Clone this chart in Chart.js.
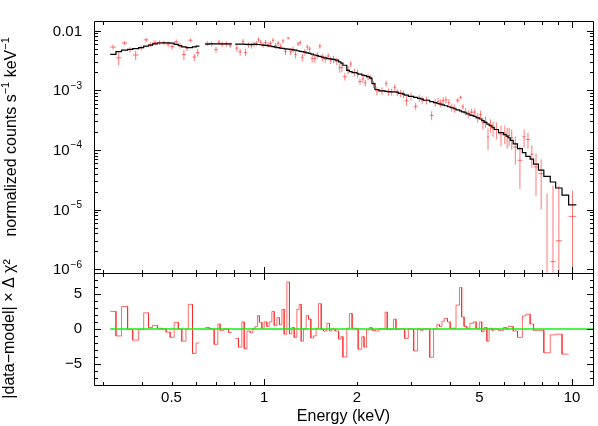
<!DOCTYPE html>
<html>
<head>
<meta charset="utf-8">
<script src="https://cdn.jsdelivr.net/npm/chart.js@4.4.1/dist/chart.umd.min.js"></script>
<style>
  html, body { margin: 0; padding: 0; background: #fff; }
</style>
</head>
<body>
<canvas id="spec" width="598" height="426"></canvas>
<script>
// channel bin edges in keV (one more than the number of bins)
const binEdges = [
  0.316, 0.330, 0.344, 0.360, 0.374, 0.391, 0.406, 0.421, 0.434, 0.450,
  0.465, 0.480, 0.495, 0.510, 0.526, 0.540, 0.557, 0.567, 0.585, 0.601,
  0.616, 0.643, 0.663, 0.688, 0.707, 0.719, 0.741, 0.766, 0.785, 0.805,
  0.825, 0.846, 0.861, 0.879, 0.901, 0.919, 0.935, 0.951, 0.965, 0.983,
  1.000, 1.020, 1.038, 1.059, 1.078, 1.100, 1.121, 1.142, 1.161, 1.185,
  1.208, 1.230, 1.252, 1.277, 1.299, 1.319, 1.342, 1.369, 1.393, 1.418,
  1.446, 1.475, 1.501, 1.532, 1.559, 1.599, 1.630, 1.659, 1.700, 1.745,
  1.775, 1.802, 1.855, 1.892, 1.930, 1.997, 2.020, 2.075, 2.110, 2.150,
  2.200, 2.240, 2.290, 2.360, 2.470, 2.510, 2.560, 2.630, 2.680, 2.730,
  2.810, 2.860, 2.940, 3.060, 3.150, 3.230, 3.290, 3.450, 3.550, 3.640,
  3.710, 3.780, 3.850, 3.940, 4.020, 4.120, 4.200, 4.310, 4.380, 4.460,
  4.550, 4.660, 4.780, 4.880, 5.000, 5.090, 5.180, 5.290, 5.380, 5.490,
  5.590, 5.770, 5.990, 6.110, 6.200, 6.300, 6.440, 6.650, 6.900, 7.080,
  7.310, 7.500, 7.780, 8.100, 8.500, 8.850, 9.280, 9.750,
  10.33
];

// normalized counts s^-1 keV^-1 (null = ignored channel)
const flux = [
  5.3e-3, 3.5e-3, 6.2e-3, 4.8e-3, 3.9e-3, 5.15e-3, 7.0e-3, 5.85e-3, 6.3e-3, 6.3e-3,
  6.25e-3, 5.95e-3, 5.4e-3, 6.5e-3, 5.6e-3, 3.97e-3, 5.1e-3, 6.9e-3, 3.6e-3, 4.3e-3,
  null, 6.1e-3, 6.05e-3, 4.8e-3, 6.4e-3, 5.9e-3, 6.0e-3, 5.7e-3, null, 5.1e-3,
  4.4e-3, 6.6e-3, 4.3e-3, 5.75e-3, 5.6e-3, 5.95e-3, 6.1e-3, 7.0e-3, 6.4e-3, 5.75e-3,
  6.3e-3, 5.8e-3, 6.1e-3, 6.9e-3, 5.6e-3, 6.15e-3, 5.45e-3, 6.7e-3, 4.5e-3, 7.5e-3,
  4.45e-3, 4.85e-3, 4.0e-3, 6.0e-3, 6.3e-3, 3.55e-3, 4.35e-3, 5.3e-3, 4.9e-3, 3.4e-3,
  3.4e-3, 3.85e-3, 5.5e-3, 3.55e-3, 3.35e-3, 3.75e-3, 3.2e-3, 3.3e-3, 3.05e-3, 2.4e-3,
  2.4e-3, 1.69e-3, 2.2e-3, 2.76e-3, 2.0e-3, 1.93e-3, 1.4e-3, 1.55e-3, 1.33e-3, 1.67e-3,
  1.63e-3, 1.26e-3, 9.8e-4, 9.8e-4, 1.3e-3, 9.4e-4, 9.4e-4, 1.12e-3, 9.2e-4, 8.9e-4,
  8.6e-4, 6.7e-4, 7.9e-4, 5.4e-4, 7.3e-4, 6.9e-4, 6.8e-4, 3.8e-4, 6.2e-4, 6.5e-4,
  6.15e-4, 6.7e-4, 6.9e-4, 6.2e-4, 5.2e-4, 5.0e-4, 6.8e-4, 7.6e-4, 5.3e-4, 4.4e-4,
  4.05e-4, 4.3e-4, 4.3e-4, 3.5e-4, 3.9e-4, 2.85e-4, 3.0e-4, 1.65e-4, 2.6e-4, 2.3e-4,
  2.2e-4, 1.85e-4, 1.9e-4, 1.7e-4, 1.75e-4, 1.6e-4, 1.12e-4, 6.7e-5, 1.66e-4, 1.5e-4,
  8.5e-5, 5.2e-5, 4.0e-5, 5e-7, 1.34e-6, 3.0e-6, null, 7.7e-6
];

const fluxErr = [
  5.2e-4, 9.0e-4, 4.7e-4, 5.0e-4, 6.9e-4, 5.0e-4, 6.5e-4, 5.0e-4, 6.0e-4, 5.5e-4,
  5.5e-4, 6.0e-4, 6.0e-4, 6.5e-4, 6.0e-4, 7.9e-4, 5.5e-4, 4.8e-4, 5.0e-4, 6.0e-4,
  null, 6.0e-4, 6.0e-4, 5.5e-4, 6.0e-4, 6.0e-4, 6.0e-4, 6.0e-4, null, 6.3e-4,
  6.0e-4, 6.5e-4, 5.8e-4, 6.0e-4, 6.0e-4, 6.0e-4, 6.0e-4, 6.0e-4, 6.3e-4, 6.0e-4,
  6.5e-4, 6.0e-4, 6.0e-4, 6.0e-4, 6.0e-4, 6.0e-4, 5.8e-4, 5.9e-4, 6.0e-4, 3.9e-4,
  5.7e-4, 5.5e-4, 5.8e-4, 5.0e-4, 5.2e-4, 5.2e-4, 5.5e-4, 5.5e-4, 5.4e-4, 5.0e-4,
  5.0e-4, 5.0e-4, 5.0e-4, 4.8e-4, 4.5e-4, 4.5e-4, 4.5e-4, 4.5e-4, 4.5e-4, 4.2e-4,
  4.0e-4, 2.4e-4, 3.5e-4, 3.2e-4, 3.0e-4, 3.0e-4, 1.6e-4, 2.2e-4, 1.7e-4, 2.0e-4,
  1.7e-4, 1.7e-4, 1.5e-4, 1.4e-4, 1.4e-4, 1.3e-4, 1.3e-4, 1.3e-4, 1.2e-4, 1.2e-4,
  1.2e-4, 1.2e-4, 1.1e-4, 7.0e-5, 1.0e-4, 1.0e-4, 1.0e-4, 6.5e-5, 9.0e-5, 9.0e-5,
  9.0e-5, 9.0e-5, 9.0e-5, 9.0e-5, 8.0e-5, 8.0e-5, 6.3e-5, 5.3e-5, 5.6e-5, 6.0e-5,
  6.0e-5, 6.0e-5, 6.5e-5, 6.5e-5, 6.5e-5, 6.5e-5, 6.5e-5, 6.5e-5, 6.5e-5, 6.5e-5,
  7.0e-5, 7.0e-5, 6.5e-5, 6.5e-5, 6.0e-5, 6.0e-5, 5.5e-5, 4.5e-5, 5.5e-5, 4.5e-5,
  3.5e-5, 3.5e-5, 3.0e-5, 1.8e-5, 2.4e-5, 2.2e-5, null, 1.3e-5
];

// folded model, same bins
const model = [
  4.0e-3, 4.45e-3, 4.7e-3, 4.85e-3, 5.0e-3, 5.2e-3, 5.5e-3, 5.7e-3, 6.0e-3, 6.2e-3,
  6.25e-3, 6.25e-3, 6.15e-3, 5.9e-3, 5.6e-3, 5.35e-3, 5.18e-3, 5.2e-3, 5.35e-3, 5.5e-3,
  null, 5.95e-3, 6.0e-3, 6.0e-3, 6.0e-3, 6.0e-3, 6.0e-3, 6.0e-3, null, 5.95e-3,
  5.95e-3, 5.95e-3, 5.9e-3, 5.9e-3, 5.9e-3, 5.9e-3, 5.9e-3, 5.85e-3, 5.8e-3, 5.7e-3,
  5.65e-3, 5.6e-3, 5.5e-3, 5.4e-3, 5.3e-3, 5.2e-3, 5.1e-3, 5.05e-3, 4.95e-3, 4.9e-3,
  4.85e-3, 4.75e-3, 4.7e-3, 4.6e-3, 4.5e-3, 4.45e-3, 4.35e-3, 4.25e-3, 4.15e-3, 4.05e-3,
  3.9e-3, 3.8e-3, 3.7e-3, 3.6e-3, 3.5e-3, 3.4e-3, 3.35e-3, 3.3e-3, 3.2e-3, 3.0e-3,
  2.85e-3, 2.63e-3, 2.15e-3, 2.05e-3, 1.98e-3, 1.93e-3, 1.86e-3, 1.8e-3, 1.76e-3, 1.7e-3,
  1.6e-3, 1.3e-3, 1.03e-3, 9.8e-4, 9.6e-4, 9.5e-4, 9.4e-4, 9.4e-4, 9.3e-4, 8.9e-4,
  8.6e-4, 8.3e-4, 7.9e-4, 7.6e-4, 7.3e-4, 7.1e-4, 6.8e-4, 6.45e-4, 6.2e-4, 6.0e-4,
  5.85e-4, 5.7e-4, 5.5e-4, 5.3e-4, 5.1e-4, 4.9e-4, 4.7e-4, 4.5e-4, 4.35e-4, 4.2e-4,
  4.0e-4, 3.8e-4, 3.65e-4, 3.45e-4, 3.3e-4, 3.1e-4, 2.9e-4, 2.7e-4, 2.55e-4, 2.4e-4,
  2.2e-4, 1.95e-4, 1.8e-4, 1.7e-4, 1.6e-4, 1.45e-4, 1.26e-4, 1.05e-4, 9.0e-5, 7.8e-5,
  7.0e-5, 5.8e-5, 4.6e-5, 3.6e-5, 2.9e-5, 2.3e-5, 1.75e-5, 1.2e-5
];

// sign(data-model) x delta chi^2 residuals, same bins
const delChi = [
  2.5, -1.0, 3.2, -0.1, -1.6, -0.1, 2.3, 0.2, 0.5, 0.1,
  0, -0.45, -1.2, 0.95, 0, -1.75, 0, 3.5, -3.5, -2.0,
  null, 0.2, 0, -2.2, 0.7, -0.2, 0, -0.5, null, -1.35,
  -2.6, 1.0, -2.8, -0.3, -0.5, 0.1, 0.35, 1.9, 0.95, 0.1,
  1.0, 0.35, 1.0, 2.5, 0.5, 1.6, 0.6, 2.8, -0.75, 6.7,
  -0.7, 0.2, -1.2, 2.8, 3.5, -1.75, 0, 1.9, 1.4, -1.3,
  -1.0, 0.1, 3.6, -0.1, -0.3, 0.8, -0.3, 0, -0.3, -1.45,
  -1.1, -4.0, 0.1, 2.2, 0.1, 0, -2.9, -1.1, -2.6, -0.15,
  0.2, -0.2, -0.3, 0, 2.4, -0.1, 0, 1.4, -0.1, 0,
  0, -1.35, 0, -3.15, 0, -0.2, 0, -4.05, 0, 0.6,
  0.35, 1.1, 1.5, 1.0, 0.1, 0.1, 3.4, 5.9, 1.7, 0.35,
  0.1, 0.8, 1.0, 0.1, 1.0, -0.4, 0.2, -1.75, 0.1, -0.2,
  0, -0.2, 0.2, 0, 0.35, 0.35, -0.3, -1.2, 1.85, 2.1,
  0.7, -0.2, -0.2, -3.4, -0.85, -0.75, -3.6, null
];

const xRange = [0.28, 11.7];
const yRange = [8.7e-7, 0.0145];
const resRange = [-8, 8];
const xTickLabels = [0.5, 1, 2, 5, 10];
const yTickVals = [1e-2, 1e-3, 1e-4, 1e-5, 1e-6];
const yTickBase = ['0.01', '10', '10', '10', '10'];
const yTickSup = ['', '\u22123', '\u22124', '\u22125', '\u22126'];
const yTitleParts = [['normalized counts s', false], ['\u22121', true], [' keV', false], ['\u22121', true]];

const FONT = "'Liberation Sans', Arial, Helvetica, sans-serif";
Chart.defaults.font.family = FONT;
Chart.defaults.color = '#000';

// step outlines and error crosses from the bins
const modelSteps = [], resSteps = [], errBars = [];
for (let i = 0; i < flux.length; i++) {
  const lo = binEdges[i], hi = binEdges[i + 1], mid = Math.sqrt(lo * hi);
  if (model[i] != null) modelSteps.push({x: lo, y: model[i]}, {x: hi, y: model[i]});
  else modelSteps.push({x: lo, y: null});
  if (delChi[i] != null) resSteps.push({x: lo, y: delChi[i]}, {x: hi, y: delChi[i]});
  else resSteps.push({x: lo, y: null});
  if (flux[i] == null) continue;
  const up = Math.min(flux[i] + fluxErr[i], yRange[1]);
  const dn = Math.max(flux[i] - fluxErr[i], yRange[0]);
  if (flux[i] >= yRange[0]) errBars.push({x: lo, y: flux[i]}, {x: hi, y: flux[i]}, {x: mid, y: null});
  errBars.push({x: mid, y: dn}, {x: mid, y: up}, {x: mid, y: null});
}
const zeroLine = [{x: binEdges[0], y: 0}, {x: xRange[1], y: 0}];

const mantissa = v => v / Math.pow(10, Math.floor(Math.log10(v) + 1e-9));
const onGrid = v => { const m = mantissa(v); return Math.abs(m - Math.round(m)) < 1e-6; };
const isDecade = v => Math.abs(mantissa(v) - 1) < 1e-6;
const near = (a, b) => Math.abs(a - b) <= 1e-9 * Math.max(Math.abs(a), Math.abs(b));

// box round each panel, ticks pointing inwards on all sides
const frame = {
  id: 'frame',
  afterDraw(chart) {
    const {ctx, scales} = chart;
    const xs = scales.x, panels = [scales.y, scales.y2];
    const al = v => Math.round(v) + 0.5;
    const L = al(xs.left), R = al(xs.right);
    ctx.save();
    ctx.strokeStyle = '#000';
    ctx.lineWidth = 1;
    ctx.beginPath();
    panels.forEach(s => ctx.rect(L, al(s.top), R - L, al(s.bottom) - al(s.top)));
    xs.ticks.forEach(t => {
      if (!onGrid(t.value)) return;
      const len = isDecade(t.value) ? 6.5 : 3.5;
      const px = al(xs.getPixelForValue(t.value));
      panels.forEach(s => {
        ctx.moveTo(px, al(s.top)); ctx.lineTo(px, al(s.top) + len);
        ctx.moveTo(px, al(s.bottom)); ctx.lineTo(px, al(s.bottom) - len);
      });
    });
    scales.y.ticks.forEach(t => {
      if (!onGrid(t.value)) return;
      const len = isDecade(t.value) ? 6.5 : 3.5;
      const py = al(scales.y.getPixelForValue(t.value));
      ctx.moveTo(L, py); ctx.lineTo(L + len, py);
      ctx.moveTo(R, py); ctx.lineTo(R - len, py);
    });
    scales.y2.ticks.forEach(t => {
      if (Math.abs(t.value) >= resRange[1]) return;
      const len = t.value % 5 === 0 ? 6.5 : 3.5;
      const py = al(scales.y2.getPixelForValue(t.value));
      ctx.moveTo(L, py); ctx.lineTo(L + len, py);
      ctx.moveTo(R, py); ctx.lineTo(R - len, py);
    });
    ctx.stroke();
    ctx.restore();
  }
};

// log-axis labels and title with real superscripts
const supText = {
  id: 'supText',
  afterDraw(chart) {
    const {ctx, scales: {y}} = chart;
    const big = '15px ' + FONT, small = '10px ' + FONT;
    ctx.save();
    ctx.fillStyle = '#000';
    ctx.textBaseline = 'alphabetic';
    ctx.textAlign = 'left';
    yTickVals.forEach((v, i) => {
      const py = y.getPixelForValue(v);
      ctx.font = big;
      const wb = ctx.measureText(yTickBase[i]).width;
      ctx.font = small;
      const ws = yTickSup[i] ? ctx.measureText(yTickSup[i]).width + 1 : 0;
      const x0 = y.right - 12 - wb - ws;
      ctx.font = big;
      ctx.fillText(yTickBase[i], x0, py + 5);
      if (ws) { ctx.font = small; ctx.fillText(yTickSup[i], x0 + wb + 1, py - 1.5); }
    });
    // rotated axis title
    const tBig = '16px ' + FONT, tSmall = '11px ' + FONT;
    let total = 0;
    yTitleParts.forEach(([s, sup]) => { ctx.font = sup ? tSmall : tBig; total += ctx.measureText(s).width; });
    ctx.translate(y.left + 15.5, (y.top + y.bottom) / 2 - 10);
    ctx.rotate(-Math.PI / 2);
    let x = -total / 2;
    yTitleParts.forEach(([s, sup]) => {
      ctx.font = sup ? tSmall : tBig;
      ctx.fillText(s, x, sup ? -6.5 : 0);
      x += ctx.measureText(s).width;
    });
    ctx.restore();
  }
};

const line = {pointRadius: 0, fill: false, tension: 0, spanGaps: false};

new Chart(document.getElementById('spec'), {
  type: 'line',
  data: {
    datasets: [
      {...line, label: 'model', data: modelSteps, yAxisID: 'y', borderColor: '#000', borderWidth: 1.2, order: 1},
      {...line, label: 'data', data: errBars, yAxisID: 'y', borderColor: 'rgba(255,30,30,0.6)', borderWidth: 1, order: 2},
      {...line, label: 'zero', data: zeroLine, yAxisID: 'y2', borderColor: '#10f010', borderWidth: 1.5, order: 1},
      {...line, label: 'delchi', data: resSteps, yAxisID: 'y2', borderColor: 'rgba(255,30,30,0.65)', borderWidth: 1, order: 2}
    ]
  },
  options: {
    responsive: false,
    animation: false,
    devicePixelRatio: 1,
    events: [],
    layout: { padding: { top: 2, right: 5, left: 0, bottom: 0 } },
    plugins: { legend: { display: false }, tooltip: { enabled: false } },
    scales: {
      x: {
        type: 'logarithmic',
        position: 'bottom',
        min: xRange[0], max: xRange[1],
        grid: { display: false, drawTicks: false },
        border: { display: false },
        ticks: {
          autoSkip: false, maxRotation: 0, padding: 4,
          font: { size: 15 }, color: '#000',
          callback: v => xTickLabels.some(t => near(t, v)) ? String(v) : ''
        },
        title: { display: true, text: 'Energy (keV)', font: { size: 16 }, color: '#000', padding: { top: 0, bottom: 0 } },
        afterFit: s => { s.height = 41; }
      },
      y: {
        type: 'logarithmic',
        position: 'left',
        stack: 'panels', stackWeight: 265, weight: 1,
        min: yRange[0], max: yRange[1],
        grid: { display: false, drawTicks: false },
        border: { display: false },
        ticks: { autoSkip: false, padding: 10, font: { size: 15 }, callback: () => '' },
        afterFit: s => { s.width = 94; }
      },
      y2: {
        type: 'linear',
        position: 'left',
        stack: 'panels', stackWeight: 118, weight: 0,
        min: resRange[0], max: resRange[1],
        grid: { display: false, drawTicks: false },
        border: { display: false },
        ticks: {
          autoSkip: false, stepSize: 1, padding: 12,
          font: { size: 15 }, color: '#000',
          callback: v => v % 5 !== 0 ? '' : (v < 0 ? '\u2212' + Math.abs(v) : String(v))
        },
        title: { display: true, text: '|data\u2212model| \u00D7 \u0394 \u03C7\u00B2', font: { size: 16 }, color: '#000', padding: { top: 0, bottom: 0 } },
        afterFit: s => { s.width = 94; }
      }
    }
  },
  plugins: [frame, supText]
});
</script>
</body>
</html>
